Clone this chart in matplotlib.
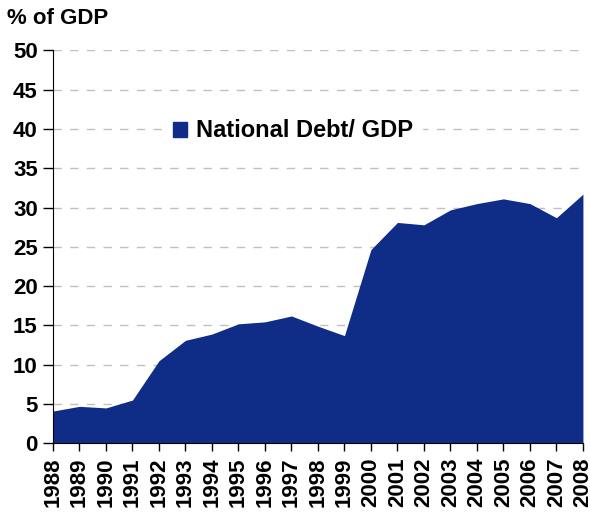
import matplotlib
matplotlib.use("Agg")
import matplotlib.pyplot as plt
from matplotlib.patches import Patch

years = ["1988", "1989", "1990", "1991", "1992", "1993", "1994", "1995", "1996", "1997",
         "1998", "1999", "2000", "2001", "2002", "2003", "2004", "2005", "2006", "2007", "2008"]
debt_gdp = [4.1, 4.7, 4.5, 5.5, 10.5, 13.1, 13.9, 15.2, 15.45, 16.2,
            14.9, 13.7, 24.65, 28.1, 27.8, 29.7, 30.5, 31.1, 30.5, 28.7, 31.7]
y_ticks = [0, 5, 10, 15, 20, 25, 30, 35, 40, 45, 50]

plt.rcParams['font.family'] = ['Liberation Sans', 'DejaVu Sans']
plt.rcParams['font.weight'] = 'bold'

color = '#0F2C87'
fig = plt.figure(figsize=(5.9, 5.17), dpi=100)
ax = fig.add_axes([0.0898, 0.1426, 0.8982, 0.760])

x = list(range(len(years)))
ax.fill_between(x, debt_gdp, 0, color=color, linewidth=0, zorder=3)
ax.set_xlim(0, len(years) - 1)
ax.set_ylim(0, 50)
ax.set_yticks(y_ticks)
ax.set_yticklabels([str(v) for v in y_ticks], fontsize=16, fontweight='bold')
ax.set_xticks(x)
ax.set_xticklabels(years, rotation=90, fontsize=16, fontweight='bold')
ax.yaxis.grid(True, color='#c0c0c0', linestyle=(0, (6, 6)), linewidth=1, zorder=1)
ax.set_axisbelow(True)
for s in ['top', 'right']:
    ax.spines[s].set_visible(False)
ax.spines['left'].set_color('black')
ax.spines['bottom'].set_color('black')
ax.spines['left'].set_zorder(4)
ax.spines['bottom'].set_zorder(4)
ax.tick_params(axis='y', length=7, width=1, colors='black', pad=4)
ax.tick_params(axis='x', length=6, width=1, colors='black', pad=4)

handle = Patch(facecolor=color, edgecolor=color)
leg = ax.legend([handle], ['National Debt/ GDP'], loc='center left',
                bbox_to_anchor=(0.187, 0.795), frameon=True, fancybox=False,
                framealpha=1, edgecolor='white', handlelength=0.6, handleheight=0.6,
                handletextpad=0.35, prop={'size': 17, 'weight': 'bold'})

fig.text(0.012, 0.965, '% of GDP', fontsize=16, fontweight='bold', va='center', ha='left')

fig.savefig('out.png', dpi=100)
